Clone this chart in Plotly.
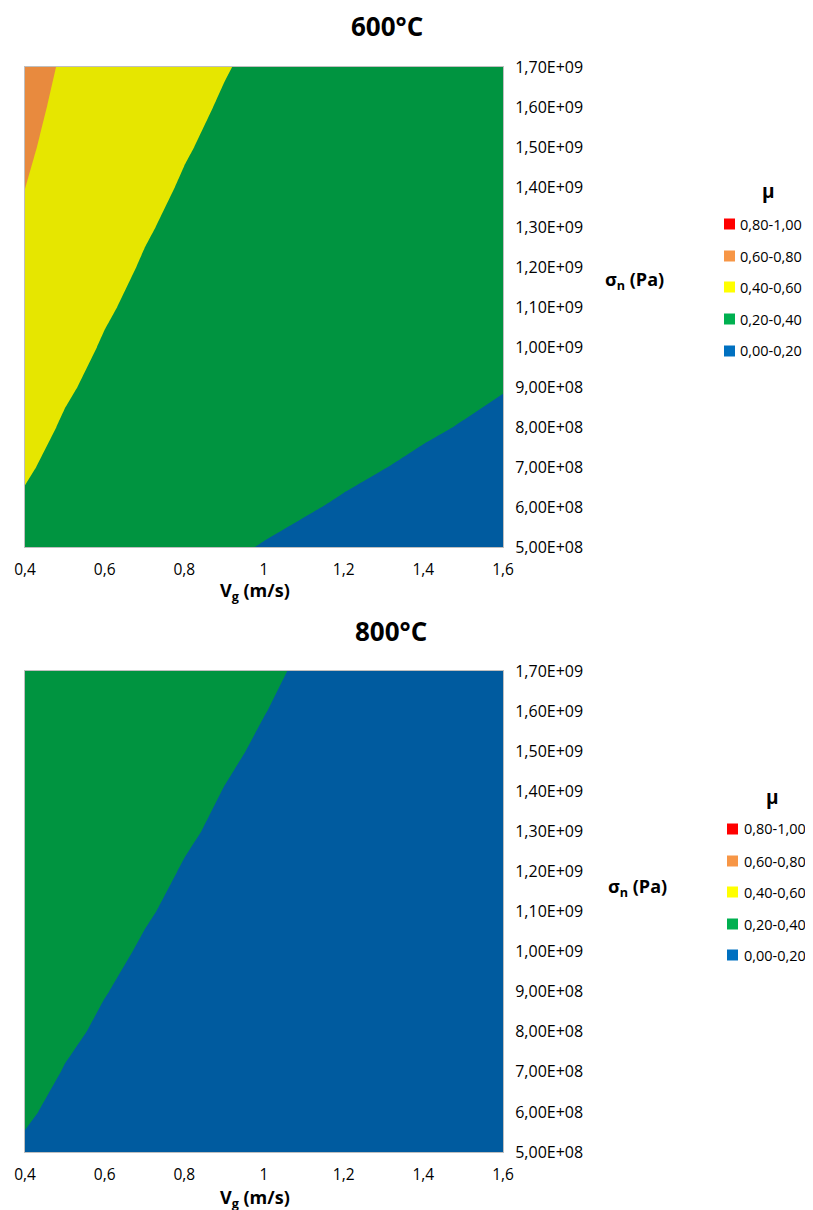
import plotly.graph_objects as go

# ---- data ----
vg = [0.4, 0.5, 0.6, 0.7, 0.8, 0.9, 1.0, 1.1, 1.2, 1.3, 1.4, 1.5, 1.6]
sigma_n = [5.0e8, 6.0e8, 7.0e8, 8.0e8, 9.0e8, 1.0e9, 1.1e9, 1.2e9, 1.3e9, 1.4e9, 1.5e9, 1.6e9, 1.7e9]

# mu at 600 C (rows: sigma_n, columns: vg)
mu_600 = [
    [0.346, 0.302, 0.270, 0.246, 0.226, 0.210, 0.197, 0.186, 0.176, 0.168, 0.160, 0.154, 0.148],
    [0.382, 0.333, 0.298, 0.271, 0.249, 0.232, 0.217, 0.205, 0.194, 0.185, 0.177, 0.169, 0.163],
    [0.415, 0.362, 0.323, 0.294, 0.271, 0.252, 0.236, 0.223, 0.211, 0.201, 0.192, 0.184, 0.177],
    [0.445, 0.388, 0.347, 0.316, 0.291, 0.271, 0.254, 0.239, 0.227, 0.216, 0.206, 0.198, 0.190],
    [0.474, 0.414, 0.370, 0.336, 0.310, 0.288, 0.270, 0.255, 0.241, 0.230, 0.220, 0.210, 0.202],
    [0.502, 0.438, 0.391, 0.356, 0.328, 0.305, 0.286, 0.269, 0.255, 0.243, 0.232, 0.223, 0.214],
    [0.528, 0.461, 0.412, 0.374, 0.345, 0.321, 0.301, 0.284, 0.269, 0.256, 0.244, 0.234, 0.225],
    [0.553, 0.483, 0.431, 0.392, 0.361, 0.336, 0.315, 0.297, 0.282, 0.268, 0.256, 0.245, 0.236],
    [0.578, 0.504, 0.450, 0.409, 0.377, 0.351, 0.329, 0.310, 0.294, 0.280, 0.267, 0.256, 0.246],
    [0.601, 0.524, 0.468, 0.426, 0.392, 0.365, 0.342, 0.323, 0.306, 0.291, 0.278, 0.267, 0.256],
    [0.624, 0.544, 0.486, 0.442, 0.407, 0.379, 0.355, 0.335, 0.317, 0.302, 0.289, 0.277, 0.266],
    [0.645, 0.563, 0.503, 0.458, 0.421, 0.392, 0.367, 0.346, 0.328, 0.313, 0.299, 0.286, 0.275],
    [0.667, 0.581, 0.520, 0.473, 0.435, 0.405, 0.380, 0.358, 0.339, 0.323, 0.309, 0.296, 0.284],
]

# mu at 800 C
mu_800 = [
    [0.189, 0.165, 0.147, 0.134, 0.124, 0.115, 0.108, 0.102, 0.096, 0.092, 0.088, 0.084, 0.081],
    [0.209, 0.182, 0.163, 0.148, 0.136, 0.127, 0.119, 0.112, 0.106, 0.101, 0.097, 0.093, 0.089],
    [0.227, 0.197, 0.177, 0.161, 0.148, 0.138, 0.129, 0.122, 0.115, 0.110, 0.105, 0.101, 0.097],
    [0.243, 0.212, 0.190, 0.172, 0.159, 0.148, 0.139, 0.131, 0.124, 0.118, 0.113, 0.108, 0.104],
    [0.259, 0.226, 0.202, 0.184, 0.169, 0.157, 0.148, 0.139, 0.132, 0.126, 0.120, 0.115, 0.110],
    [0.274, 0.239, 0.214, 0.194, 0.179, 0.166, 0.156, 0.147, 0.139, 0.133, 0.127, 0.122, 0.117],
    [0.288, 0.251, 0.225, 0.205, 0.188, 0.175, 0.164, 0.155, 0.147, 0.140, 0.133, 0.128, 0.123],
    [0.302, 0.263, 0.236, 0.214, 0.197, 0.184, 0.172, 0.162, 0.154, 0.146, 0.140, 0.134, 0.129],
    [0.315, 0.275, 0.246, 0.224, 0.206, 0.192, 0.180, 0.169, 0.160, 0.153, 0.146, 0.140, 0.134],
    [0.328, 0.286, 0.256, 0.233, 0.214, 0.199, 0.187, 0.176, 0.167, 0.159, 0.152, 0.146, 0.140],
    [0.341, 0.297, 0.265, 0.241, 0.222, 0.207, 0.194, 0.183, 0.173, 0.165, 0.158, 0.151, 0.145],
    [0.353, 0.307, 0.275, 0.250, 0.230, 0.214, 0.201, 0.189, 0.179, 0.171, 0.163, 0.156, 0.150],
    [0.364, 0.317, 0.284, 0.258, 0.238, 0.221, 0.207, 0.195, 0.185, 0.176, 0.168, 0.162, 0.155],
]

titles = ["600°C", "800°C"]
legend_labels = ["0,80-1,00", "0,60-0,80", "0,40-0,60", "0,20-0,40", "0,00-0,20"]
legend_colors = ["#FF0000", "#F79646", "#FFFF00", "#00B050", "#0070C0"]
x_ticks = [0.4, 0.6, 0.8, 1.0, 1.2, 1.4, 1.6]
x_ticktext = ["0,4", "0,6", "0,8", "1", "1,2", "1,4", "1,6"]
y_ticktext = ["5,00E+08", "6,00E+08", "7,00E+08", "8,00E+08", "9,00E+08", "1,00E+09",
              "1,10E+09", "1,20E+09", "1,30E+09", "1,40E+09", "1,50E+09", "1,60E+09", "1,70E+09"]

# band fill colours as rendered in the plot (shaded)
band_colors = ["#005B9F", "#009440", "#E6E600", "#E88A3E", "#E00000"]

# ---- layout geometry (page has an 8px body margin) ----
OFF = 8
W, H = 813 - OFF, 1210 - OFF
FONT = "Open Sans"
px_x = lambda p: (p - OFF) / W
px_y = lambda p: 1 - (p - OFF) / H

plot_x = (25, 503)
plots_y = [(67, 547), (671, 1152)]

colorscale = []
for i, c in enumerate(band_colors):
    colorscale.append([i / 5, c])
    colorscale.append([(i + 1) / 5, c])

fig = go.Figure()
for k, z in enumerate([mu_600, mu_800]):
    sfx = "" if k == 0 else "2"
    fig.add_trace(go.Contour(
        x=vg, y=sigma_n, z=z,
        xaxis="x" + sfx, yaxis="y" + sfx,
        autocontour=False,
        contours=dict(start=0.2, end=0.8, size=0.2, coloring="fill", showlines=False),
        colorscale=colorscale, showscale=False,
        line=dict(width=0, smoothing=0),
        hoverinfo="skip",
    ))

axis_line = dict(showline=True, mirror=True, linecolor="#BFBFBF", linewidth=1,
                 showgrid=False, zeroline=False, automargin=False)

for k, (y0, y1) in enumerate(plots_y):
    sfx = "" if k == 0 else "2"
    fig.update_layout(**{
        "xaxis" + sfx: dict(
            domain=[px_x(plot_x[0]), px_x(plot_x[1])],
            anchor="y" + sfx, range=[0.4, 1.6],
            tickvals=x_ticks, ticktext=x_ticktext, ticks="",
            ticklabelstandoff=8,
            tickfont=dict(family=FONT, size=15.5, color="#000"),
            **axis_line),
        "yaxis" + sfx: dict(
            domain=[px_y(y1), px_y(y0)],
            anchor="x" + sfx, side="right", range=[5e8, 1.7e9],
            tickvals=sigma_n, ticktext=y_ticktext, ticks="",
            ticklabelstandoff=8,
            tickfont=dict(family=FONT, size=16, color="#000"),
            **axis_line),
    })

annotations = []
shapes = []
title_pos = [(387, 26), (391, 631)]
xtitle_pos = [(255, 591), (255, 1198)]
ytitle_pos = [(634, 280), (637, 887)]
mu_pos = [(768, 191), (772, 797)]
leg_sq_x = [(724, 735), (727, 738)]
leg_txt_x = [738, 742]
leg_y = [[224, 256, 287, 319, 351], [829, 861, 892, 924, 955]]


def ann(text, x, y, size, xanchor="center"):
    return dict(text=text, x=px_x(x), y=px_y(y), xref="paper", yref="paper",
                xanchor=xanchor, yanchor="middle", showarrow=False,
                font=dict(family=FONT, size=size, color="#000"))


for k in range(2):
    annotations.append(ann("<b>%s</b>" % titles[k], *title_pos[k], 26))
    annotations.append(ann("<b>V<sub>g</sub> (m/s)</b>", *xtitle_pos[k], 18))
    annotations.append(ann("<b>σ<sub>n</sub> (Pa)</b>", *ytitle_pos[k], 18))
    annotations.append(ann("<b>μ</b>", *mu_pos[k], 19))
    for j, (lab, col) in enumerate(zip(legend_labels, legend_colors)):
        yc = leg_y[k][j]
        shapes.append(dict(type="rect", xref="paper", yref="paper",
                           x0=px_x(leg_sq_x[k][0]), x1=px_x(leg_sq_x[k][1]),
                           y0=px_y(yc + 5.5), y1=px_y(yc - 5.5),
                           fillcolor=col, line=dict(width=0)))
        annotations.append(ann(lab, leg_txt_x[k], yc, 14.5, xanchor="left"))

fig.update_layout(
    width=W, height=H,
    margin=dict(l=0, r=0, t=0, b=0, autoexpand=False),
    paper_bgcolor="white", plot_bgcolor="white",
    showlegend=False,
    annotations=annotations, shapes=shapes,
)

fig.write_html("out.html")
